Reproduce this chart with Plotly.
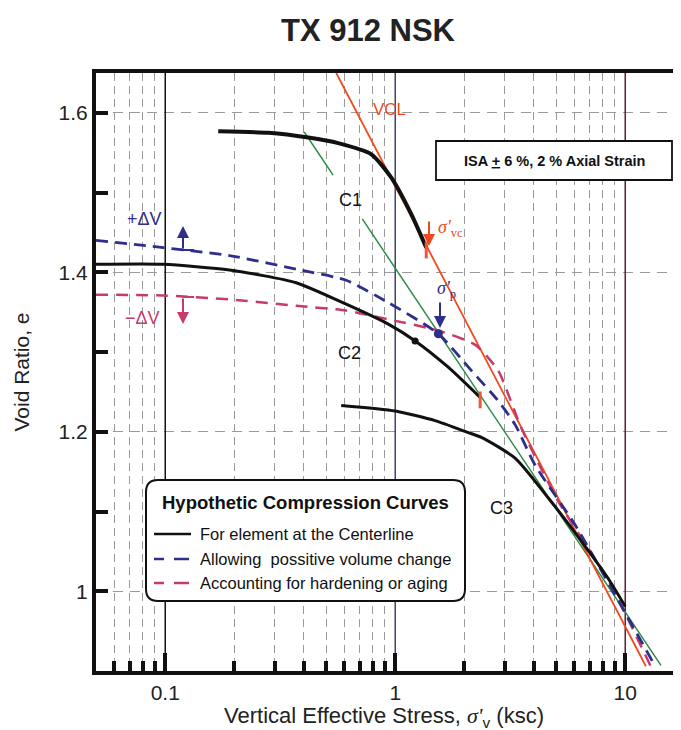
import numpy as np
import plotly.graph_objects as go

# ---------------- data ----------------
c1_x = [0.170, 0.281, 0.419, 0.565, 0.787, 0.96, 1.174, 1.364]
c1_e = [1.577, 1.575, 1.569, 1.562, 1.548, 1.519, 1.473, 1.431]

c2_x = [0.05, 0.098, 0.19, 0.371, 0.612, 0.933, 1.221, 1.70, 2.34]
c2_e = [1.410, 1.410, 1.403, 1.387, 1.360, 1.335, 1.314, 1.281, 1.243]

c3_x = [0.582, 1.0, 1.49, 2.08, 2.37, 3.32, 4.63, 6.44, 8.43, 10.0]
c3_e = [1.233, 1.226, 1.214, 1.199, 1.193, 1.167, 1.117, 1.063, 1.016, 0.981]

blue_x = [0.05, 0.098, 0.19, 0.371, 0.612, 0.933, 1.538, 2.14, 2.80, 3.32, 4.06, 6.06, 9.05, 13.5]
blue_e = [1.440, 1.431, 1.421, 1.404, 1.390, 1.362, 1.323, 1.277, 1.239, 1.209, 1.158, 1.083, 0.995, 0.906]

pink_x = [0.05, 0.098, 0.19, 0.371, 0.612, 0.933, 1.538, 2.23, 2.80, 3.53, 5.11, 8.43, 12.9]
pink_e = [1.372, 1.371, 1.366, 1.358, 1.352, 1.341, 1.327, 1.309, 1.277, 1.205, 1.113, 1.014, 0.906]

vcl_x = [0.554, 1.0, 2.0, 5.0, 10.0, 12.3]
vcl_e = [1.650, 1.508, 1.341, 1.121, 0.955, 0.906]

green1_x = [0.402, 0.537]
green1_e = [1.576, 1.522]
green2_x = [0.719, 14.3]
green2_e = [1.467, 0.907]

c1_end_x, c1_end_e = [1.364], [1.428]
c2_end_x, c2_end_e = [2.34], [1.240]
c2_dot_x, c2_dot_e = [1.22], [1.314]
sigp_x, sigp_e = [1.54], [1.323]

decades = [0.1, 1, 10]
decade_colors = ["#111111", "#3b4766", "#5a1f38"]
x_minor = [0.06, 0.07, 0.08, 0.09] + [k / 10 for k in range(2, 10)] + list(range(2, 10))
y_major = [1.0, 1.2, 1.4, 1.6]
y_major_text = ["1", "1.2", "1.4", "1.6"]
y_minor = [1.1, 1.3, 1.5]

# ---------------- layout geometry ----------------
W, H = 681, 730
L, R, T, B = 88, 0, 65, 67
PW, PH = W - L - R, H - T - B


def px(xp):
    return (xp - L) / PW


def py(yp):
    return (H - B - yp) / PH


FONT = "Arial, Liberation Sans, sans-serif"
BLACK = "#111111"
NAVY = "#2e2e8c"
PINK = "#c83a6a"
ORANGE = "#ee4a1e"
GREEN = "#2e8b47"

fig = go.Figure()

# decade lines
for d, c in zip(decades, decade_colors):
    fig.add_trace(go.Scatter(x=[d, d], y=[0.9, 1.65], mode="lines",
                             line=dict(color=c, width=1.5), hoverinfo="skip", showlegend=False))

fig.add_trace(go.Scatter(x=green1_x, y=green1_e, mode="lines", line=dict(color=GREEN, width=1.5), showlegend=False))
fig.add_trace(go.Scatter(x=green2_x, y=green2_e, mode="lines", line=dict(color=GREEN, width=1.5), showlegend=False))
fig.add_trace(go.Scatter(x=vcl_x, y=vcl_e, mode="lines", line=dict(color=ORANGE, width=1.8), showlegend=False))
fig.add_trace(go.Scatter(x=pink_x, y=pink_e, mode="lines", line=dict(color=PINK, width=2.5, dash="12px,8px", shape="spline", smoothing=0.6), showlegend=False))
fig.add_trace(go.Scatter(x=blue_x, y=blue_e, mode="lines", line=dict(color=NAVY, width=2.8, dash="12px,7px", shape="spline", smoothing=0.6), showlegend=False))
fig.add_trace(go.Scatter(x=c3_x, y=c3_e, mode="lines", line=dict(color=BLACK, width=3, shape="spline", smoothing=0.6), showlegend=False))
fig.add_trace(go.Scatter(x=c2_x, y=c2_e, mode="lines", line=dict(color=BLACK, width=3, shape="spline", smoothing=0.6), showlegend=False))
fig.add_trace(go.Scatter(x=c1_x, y=c1_e, mode="lines", line=dict(color=BLACK, width=4, shape="spline", smoothing=0.6), showlegend=False))

# end ticks / points
fig.add_trace(go.Scatter(x=c1_end_x + c2_end_x, y=c1_end_e + c2_end_e, mode="markers",
                         marker=dict(symbol="line-ns-open", size=12, line=dict(color=BLACK, width=3)), showlegend=False))
fig.add_trace(go.Scatter(x=c2_dot_x, y=c2_dot_e, mode="markers", marker=dict(color=BLACK, size=7), showlegend=False))
fig.add_trace(go.Scatter(x=sigp_x, y=sigp_e, mode="markers", marker=dict(color=NAVY, size=9), showlegend=False))

annotations = []
shapes = []


def text(xp, yp, s, size=16, color=BLACK, bold=False, family=FONT, xanchor="center"):
    if bold:
        s = "<b>" + s + "</b>"
    annotations.append(dict(x=px(xp), y=py(yp), xref="paper", yref="paper", text=s, showarrow=False,
                            font=dict(size=size, color=color, family=family), xanchor=xanchor, yanchor="middle"))


def arrow(xp, y_tip, y_tail, color):
    annotations.append(dict(x=px(xp), y=py(y_tip), xref="paper", yref="paper", text="", showarrow=True,
                            ax=0, ay=y_tail - y_tip, arrowhead=2, arrowsize=1.2, arrowwidth=2, arrowcolor=color))


def seg(x0, y0, x1, y1, color, width=2, dash="solid"):
    shapes.append(dict(type="line", xref="paper", yref="paper", x0=px(x0), y0=py(y0), x1=px(x1), y1=py(y1),
                       line=dict(color=color, width=width, dash=dash)))


# labels on the plot
text(381, 102, "VCL", 17, ORANGE)
text(342, 192, "C1", 18)
text(341, 345, "C2", 18)
text(493, 500, "C3", 18)

SERIF = "Liberation Serif, Times New Roman, serif"
text(428, 220, "<i>σ'</i><sub>vc</sub>", 18, ORANGE, family=SERIF, xanchor="left")
arrow(421, 238, 212, ORANGE)
text(427, 281, "<i>σ'</i><sub>p</sub>", 18, NAVY, family=SERIF, xanchor="left")
arrow(432, 320, 293, NAVY)

text(136, 211, "+ΔV", 18, NAVY)
arrow(175, 218, 242, NAVY)
seg(175, 242, 186, 242, NAVY, 2)
text(134, 310, "−ΔV", 18, PINK)
arrow(175, 316, 289, PINK)
seg(175, 289, 186, 289, PINK, 2)

# ISA box
shapes.append(dict(type="rect", xref="paper", yref="paper", x0=px(428), y0=py(172), x1=px(664), y1=py(133),
                   line=dict(color=BLACK, width=1.8), fillcolor="white"))
text(546, 153, "ISA <u>+</u> 6 %, 2 % Axial Strain", 14.5, BLACK, bold=True)

# custom legend box with rounded corners
lx0, lx1, ly0, ly1, r = 138, 457, 472, 593, 12
rx, ry = r / PW, r / PH
X0, X1, Y0, Y1 = px(lx0), px(lx1), py(ly1), py(ly0)
path = (f"M {X0+rx},{Y0} L {X1-rx},{Y0} Q {X1},{Y0} {X1},{Y0+ry} L {X1},{Y1-ry} Q {X1},{Y1} {X1-rx},{Y1} "
        f"L {X0+rx},{Y1} Q {X0},{Y1} {X0},{Y1-ry} L {X0},{Y0+ry} Q {X0},{Y0} {X0+rx},{Y0} Z")
shapes.append(dict(type="path", xref="paper", yref="paper", path=path,
                   line=dict(color=BLACK, width=2), fillcolor="white"))
text(297, 494, "Hypothetic Compression Curves", 18.5, BLACK, bold=True)
legend_items = ["For element at the Centerline", "Allowing  possitive volume change", "Accounting for hardening or aging"]
legend_y = [526, 551, 575]
seg(146, legend_y[0], 183, legend_y[0], BLACK, 2.5)
seg(146, legend_y[1], 156, legend_y[1], NAVY, 2.5)
seg(166, legend_y[1], 181, legend_y[1], NAVY, 2.5)
seg(146, legend_y[2], 156, legend_y[2], PINK, 2.5)
seg(166, legend_y[2], 181, legend_y[2], PINK, 2.5)
for s_, y_ in zip(legend_items, legend_y):
    text(190, y_, s_, 16.5, BLACK, xanchor="left")

# x-axis title as an annotation (precise placement)
annotations.append(dict(
    x=px(376), y=py(709), xref="paper", yref="paper", showarrow=False, xanchor="center", yanchor="middle",
    text="Vertical Effective Stress, <span style=\"font-family:'Liberation Serif';font-style:italic\">σ'</span><sub>v</sub> (ksc)",
    font=dict(size=22, color="#222222", family=FONT)))

fig.update_layout(
    width=W, height=H,
    margin=dict(l=L, r=R, t=T, b=B, autoexpand=False),
    paper_bgcolor="white", plot_bgcolor="white",
    font=dict(family=FONT, color="#222222"),
    title=dict(text="<b>TX 912 NSK</b>", x=360 / W, xanchor="center", y=1 - 22 / H, yanchor="middle",
               font=dict(size=31, color="#222222")),
    annotations=annotations, shapes=shapes,
)

fig.update_xaxes(
    type="log", range=[np.log10(0.05), np.log10(0.05) + PW / 230.0], automargin=False,
    showline=True, linewidth=4, linecolor=BLACK, mirror=True,
    tickvals=decades, ticktext=["0.1", "1", "10"], ticks="inside", ticklen=18, tickwidth=4, tickcolor=BLACK,
    tickfont=dict(size=21, color="#222222"), showgrid=False, zeroline=False,
    minor=dict(tickvals=x_minor, ticks="inside", ticklen=10, tickwidth=4, tickcolor=BLACK,
               showgrid=True, gridcolor="#9a9a9a", gridwidth=1, griddash="8px,5px"),
)
fig.update_yaxes(
    range=[0.9, 1.65], automargin=False,
    showline=True, linewidth=4, linecolor=BLACK, mirror=False,
    tickvals=y_major, ticktext=y_major_text, ticks="inside", ticklen=12, tickwidth=4, tickcolor=BLACK,
    tickfont=dict(size=21, color="#222222"), showgrid=True, gridcolor="#9a9a9a", gridwidth=1, griddash="10px,7px",
    zeroline=False,
    minor=dict(tickvals=y_minor, ticks="inside", ticklen=12, tickwidth=4, tickcolor=BLACK, showgrid=False),
    title=dict(text="Void Ratio, e", font=dict(size=21, color="#222222"), standoff=24),
)

fig.write_html("out.html")
